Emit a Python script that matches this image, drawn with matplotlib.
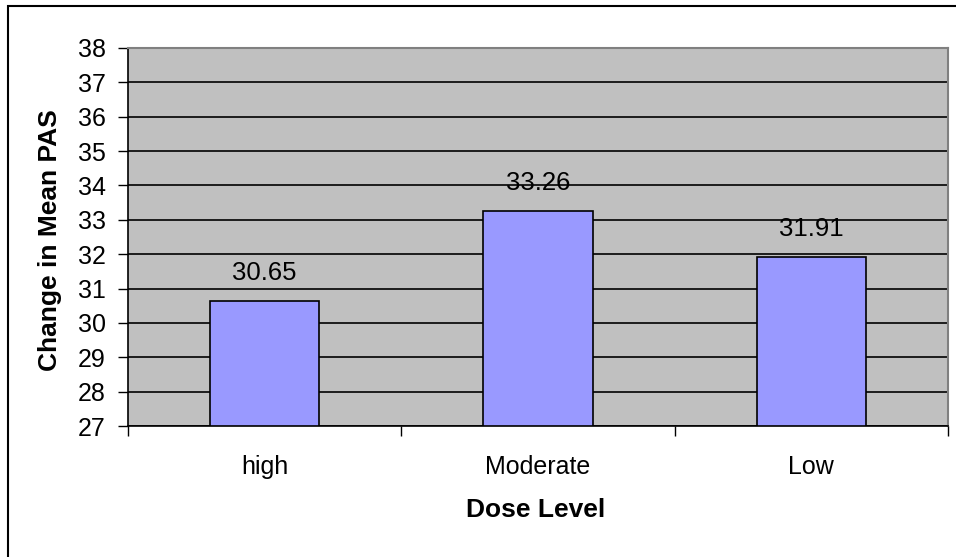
import matplotlib
matplotlib.use("Agg")
import matplotlib.pyplot as plt
from matplotlib.patches import Rectangle
import numpy as np

# Data
dose_levels = ["high", "Moderate", "Low"]
mean_pas = [30.65, 33.26, 31.91]
y_ticks = list(range(27, 39))

plt.rcParams['font.family'] = ['Liberation Sans', 'DejaVu Sans']

W, H = 956, 557
fig = plt.figure(figsize=(W / 100, H / 100), dpi=100)

# outer chart border (right and bottom edges lie outside the picture)
fig.patches.append(Rectangle((8 / W, 0 - 0.01), 1.0, 1 - 6 / H + 0.01,
                             transform=fig.transFigure, fill=False,
                             edgecolor='black', linewidth=1.5))

# plot area in pixels: left 128, right 948, top 48, bottom 426
ax = fig.add_axes([128 / W, 1 - 426 / H, (948 - 128) / W, (426 - 48) / H])
ax.set_facecolor('#C0C0C0')

x = np.arange(len(dose_levels))
ax.set_axisbelow(True)
ax.yaxis.grid(True, color='black', linewidth=1.2)
ax.bar(x, [v - 27 for v in mean_pas], bottom=27, width=0.4,
       color='#9999FF', edgecolor='black', linewidth=1.2, zorder=3)

# value labels, baseline about 21 px above the bar top
px_per_unit = (426 - 48) / (38 - 27)
for xi, v in zip(x, mean_pas):
    ax.text(xi, v + 21 / px_per_unit, f"{v:.2f}", ha='center', va='baseline',
            fontsize=18.5, color='black', zorder=4)

ax.set_xlim(-0.5, len(dose_levels) - 0.5)
ax.set_ylim(27, 38)
ax.set_yticks(y_ticks)
ax.set_xticks(x)
ax.set_xticklabels(dose_levels, fontsize=18)
ax.set_xticks(np.arange(-0.5, len(dose_levels)), minor=True)
ax.tick_params(axis='x', which='major', length=0, pad=21)
ax.tick_params(axis='x', which='minor', length=7, width=1, direction='out')
ax.tick_params(axis='y', length=7, width=1, direction='out', labelsize=18, pad=9)

for side in ['left', 'bottom']:
    ax.spines[side].set_color('black')
    ax.spines[side].set_linewidth(1.2)
for side in ['top', 'right']:
    ax.spines[side].set_color('#808080')
    ax.spines[side].set_linewidth(1.5)

# axis titles
fig.text(536 / W, 1 - 510 / H, "Dose Level", ha='center', va='center',
         fontsize=19, fontweight='bold')
fig.text(50 / W, 1 - 240 / H, "Change in Mean PAS", ha='center', va='center',
         rotation=90, fontsize=19, fontweight='bold')

fig.savefig("out.png", dpi=100)
